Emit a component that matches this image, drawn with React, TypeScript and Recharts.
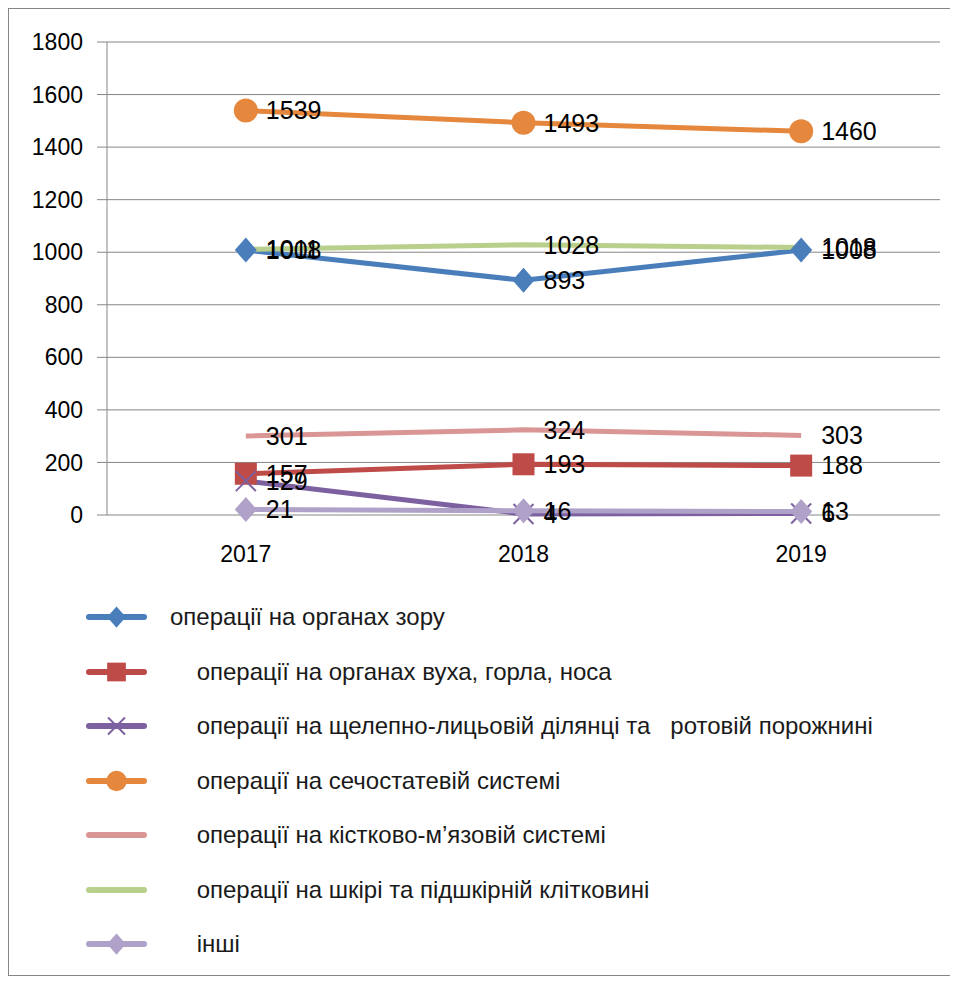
import React from "react";
import {
  LineChart,
  Line,
  XAxis,
  YAxis,
  CartesianGrid,
  LabelList,
  Legend,
} from "recharts";

const years = ["2017", "2018", "2019"];
const eyes = [1008, 893, 1008];
const ent = [157, 193, 188];
const maxillofacial = [129, 4, 6];
const urogenital = [1539, 1493, 1460];
const musculoskeletal = [301, 324, 303];
const skin = [1011, 1028, 1018];
const other = [21, 16, 13];
const yTicks = [0, 200, 400, 600, 800, 1000, 1200, 1400, 1600, 1800];
const bandEdges = [0, 1, 2, 3];

const FONT = "'Liberation Sans', Arial, sans-serif";
const AXIS_GREY = "#868686";

type MarkerKind = "diamond" | "square" | "cross" | "circle" | "none";

const series: { key: string; name: string; values: number[]; color: string; marker: MarkerKind }[] = [
  { key: "eyes", name: "операції на органах зору", values: eyes, color: "#4A7EBB", marker: "diamond" },
  { key: "ent", name: "    операції на органах вуха, горла, носа", values: ent, color: "#BE4B48", marker: "square" },
  { key: "maxillofacial", name: "    операції на щелепно-лицьовій ділянці та   ротовій порожнині", values: maxillofacial, color: "#7D60A0", marker: "cross" },
  { key: "urogenital", name: "    операції на сечостатевій системі", values: urogenital, color: "#E5883E", marker: "circle" },
  { key: "musculoskeletal", name: "    операції на кістково-м’язовій системі", values: musculoskeletal, color: "#D99694", marker: "none" },
  { key: "skin", name: "    операції на шкірі та підшкірній клітковині", values: skin, color: "#B9CF8C", marker: "none" },
  { key: "other", name: "    інші", values: other, color: "#B0A1C9", marker: "diamond" },
];

const rows = years.map((year, i) => {
  const row: Record<string, string | number> = { year };
  series.forEach((s) => {
    row[s.key] = s.values[i];
  });
  return row;
});

const Marker = ({ kind, cx, cy, color, scale = 1 }: { kind: MarkerKind; cx: number; cy: number; color: string; scale?: number }) => {
  if (kind === "diamond") {
    const w = 11 * scale;
    const h = 12.5 * scale;
    return <polygon points={`${cx},${cy - h} ${cx + w},${cy} ${cx},${cy + h} ${cx - w},${cy}`} fill={color} />;
  }
  if (kind === "square") {
    const s = 11 * scale;
    return <rect x={cx - s} y={cy - s} width={2 * s} height={2 * s} fill={color} />;
  }
  if (kind === "circle") {
    return <circle cx={cx} cy={cy} r={12 * scale} fill={color} />;
  }
  if (kind === "cross") {
    const s = 10 * scale;
    return (
      <g stroke={color} strokeWidth={2}>
        <line x1={cx - s} y1={cy - s} x2={cx + s} y2={cy + s} />
        <line x1={cx - s} y1={cy + s} x2={cx + s} y2={cy - s} />
      </g>
    );
  }
  return <g />;
};

const LegendList = () => (
  <div style={{ fontFamily: FONT, fontSize: 24, color: "#1a1a1a" }}>
    {series.map((s) => (
      <div key={s.key} style={{ display: "flex", alignItems: "center", height: 54.5 }}>
        <svg width={85} height={30} style={{ flex: "none" }}>
          <line x1={4} y1={15} x2={59} y2={15} stroke={s.color} strokeWidth={6} strokeLinecap="round" />
          <Marker kind={s.marker} cx={31.5} cy={15} color={s.color} scale={0.85} />
        </svg>
        <span style={{ whiteSpace: "pre" }}>{s.name}</span>
      </div>
    ))}
  </div>
);

export default function App() {
  return (
    <div style={{ position: "relative", width: 950, height: 973 }}>
      <div
        style={{
          position: "absolute",
          left: 0,
          top: 0,
          width: 946,
          height: 968,
          border: `1.5px solid ${AXIS_GREY}`,
          boxSizing: "border-box",
        }}
      />
      <LineChart
        width={946}
        height={965}
        data={rows}
        margin={{ top: 34, right: 14, bottom: 413, left: 0 }}
        style={{ position: "absolute", left: 0, top: 0 }}
      >
        <CartesianGrid xAxisId="cat" vertical={false} stroke={AXIS_GREY} strokeWidth={1} />
        <XAxis
          xAxisId="edge"
          type="number"
          domain={[0, 3]}
          ticks={bandEdges}
          tick={false}
          tickSize={10}
          height={0}
          stroke={AXIS_GREY}
        />
        <XAxis
          xAxisId="cat"
          dataKey="year"
          scale="band"
          axisLine={false}
          tickLine={false}
          tickSize={0}
          tickMargin={31}
          height={45}
          tick={{ fontSize: 23, fill: "#000", fontFamily: FONT }}
        />
        <YAxis
          width={99}
          domain={[0, 1800]}
          ticks={yTicks}
          interval={0}
          tickSize={10}
          tickMargin={14}
          stroke={AXIS_GREY}
          tick={{ fontSize: 23, fill: "#000", fontFamily: FONT }}
        />
        {series.map((s) => (
          <Line
            key={s.key}
            xAxisId="cat"
            dataKey={s.key}
            stroke={s.color}
            strokeWidth={5}
            isAnimationActive={false}
            activeDot={false}
            dot={(p: any) => (
              <Marker key={`${s.key}-${p.index}`} kind={s.marker} cx={p.cx} cy={p.cy} color={s.color} />
            )}
          >
            <LabelList
              dataKey={s.key}
              position="right"
              offset={20}
              fill="#000"
              fontSize={25}
              fontFamily={FONT}
            />
          </Line>
        ))}
        <Legend
          layout="vertical"
          align="center"
          verticalAlign="middle"
          content={() => <LegendList />}
          wrapperStyle={{ position: "absolute", left: 77, top: 582, width: 860 }}
        />
      </LineChart>
    </div>
  );
}
